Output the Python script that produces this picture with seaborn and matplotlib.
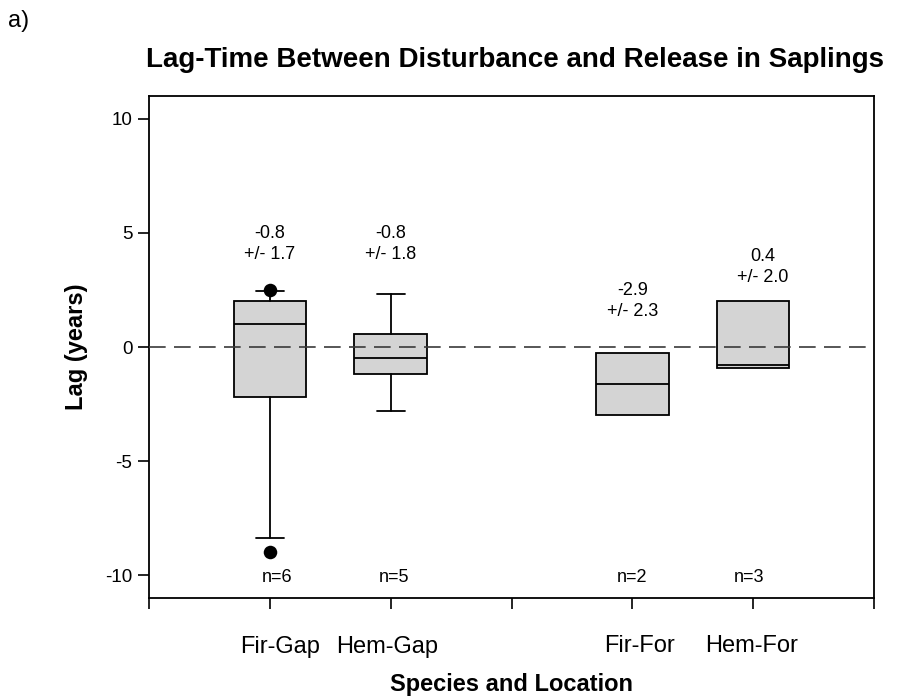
import matplotlib
matplotlib.use("Agg")
import matplotlib.pyplot as plt
import matplotlib.transforms as mtransforms
import seaborn as sns
import pandas as pd

# Groups and their positions along the x axis (slot 3 is left empty)
groups = ["Fir-Gap", "Hem-Gap", "Fir-For", "Hem-For"]
positions = [1, 2, 4, 5]
tick_slots = [0, 1, 2, 3, 4, 5, 6]
tick_labels = ["", "Fir-Gap", "Hem-Gap", "", "Fir-For", "Hem-For", ""]

# Box summaries (years)
q1 = [-2.2, -1.18, -2.98, -0.92]
medians = [1.0, -0.48, -1.62, -0.8]
q3 = [2.0, 0.57, -0.25, 2.03]
whisker_low = [-8.35, -2.8, -2.98, -0.92]
whisker_high = [2.45, 2.33, -0.25, 2.03]
has_whiskers = [True, True, False, False]

# Points outside the whiskers
outlier_group = ["Fir-Gap", "Fir-Gap"]
outlier_lag = [-9.0, 2.5]

# Mean and spread printed above each box, plus sample sizes
mean_lag = [-0.8, -0.8, -2.9, 0.4]
spread_lag = [1.7, 1.8, 2.3, 2.0]
sample_n = [6, 5, 2, 3]

# Placement of the printed annotations
label_y = [4.5, 4.5, 2.0, 3.5]
label_dx = [0.0, 0.0, 0.0, 0.08]
n_dx = [0.06, 0.025, 0.0, -0.03]
ticklabel_shift_px = [0, 10, -4, 0, 7, -2, 0]

sns.set_theme(style="ticks")
plt.rcParams["font.family"] = ["Liberation Sans", "DejaVu Sans"]
plt.rcParams["text.color"] = "black"
plt.rcParams["axes.labelcolor"] = "black"
plt.rcParams["xtick.color"] = "black"
plt.rcParams["ytick.color"] = "black"

fig = plt.figure(figsize=(9.08, 6.98), dpi=100)
ax = fig.add_axes([149 / 908, 1 - 598 / 698, 725 / 908, 502 / 698])

stats = []
for g, lo, a, m, b, hi in zip(groups, whisker_low, q1, medians, q3, whisker_high):
    stats.append(dict(label=g, whislo=lo, q1=a, med=m, q3=b, whishi=hi, fliers=[]))

box_style = dict(facecolor="#d4d4d4", edgecolor="black", linewidth=1.3)
line_style = dict(color="black", linewidth=1.3)
for show in (True, False):
    idx = [i for i, h in enumerate(has_whiskers) if h == show]
    ax.bxp([stats[i] for i in idx],
           positions=[positions[i] for i in idx],
           widths=0.6, patch_artist=True, showfliers=False,
           showcaps=show, capwidths=0.23, manage_ticks=False,
           boxprops=box_style, medianprops=line_style,
           whiskerprops=line_style, capprops=line_style)

pos_of = dict(zip(groups, positions))
outliers = pd.DataFrame({"x": [pos_of[g] for g in outlier_group], "lag": outlier_lag})
sns.scatterplot(data=outliers, x="x", y="lag", ax=ax, color="black",
                s=95, edgecolor="black", linewidth=0, zorder=4)

ax.axhline(0, color="#3a3a3a", linestyle=(0, (10, 5)), linewidth=1.2, zorder=3)

for x, dx, ndx, y, m, s, n in zip(positions, label_dx, n_dx, label_y,
                                  mean_lag, spread_lag, sample_n):
    ax.text(x + dx, y + 0.46, f"{m:.1f}", ha="center", va="center", fontsize=13)
    ax.text(x + dx, y - 0.46, f"+/- {s:.1f}", ha="center", va="center", fontsize=13)
    ax.text(x + ndx, -10.1, f"n={n}", ha="center", va="center", fontsize=13)

ax.set_xlim(0, 6)
ax.set_ylim(-11, 11)
ax.set_xticks(tick_slots)
ax.set_xticklabels(tick_labels, fontsize=17)
ax.set_yticks([-10, -5, 0, 5, 10])
ax.set_yticklabels(["-10", "-5", "0", "5", "10"], fontsize=13.5)
ax.tick_params(axis="x", direction="out", length=8, width=1.2, pad=19)
ax.tick_params(axis="y", direction="out", length=8, width=1.2, pad=4)
for lbl, shift in zip(ax.get_xticklabels(), ticklabel_shift_px):
    lbl.set_transform(lbl.get_transform() +
                      mtransforms.ScaledTranslation(shift / 100, 0, fig.dpi_scale_trans))
for sp in ax.spines.values():
    sp.set_visible(True)
    sp.set_color("black")
    sp.set_linewidth(1.3)

ax.set_xlabel("Species and Location", fontsize=17, fontweight="bold")
ax.xaxis.label.set_va("center")
ax.xaxis.set_label_coords(0.5, -(684 - 598) / 502)
ax.set_ylabel("Lag (years)", fontsize=17, fontweight="bold")
ax.yaxis.label.set_va("center")
ax.yaxis.set_label_coords(-(149 - 76) / 725, 0.5)

fig.text(515 / 908, 1 - 60 / 698, "Lag-Time Between Disturbance and Release in Saplings",
         ha="center", va="center", fontsize=20, fontweight="bold")
fig.text(8 / 908, 1 - 21 / 698, "a)", ha="left", va="center", fontsize=17)

fig.savefig("out.png", dpi=100, facecolor="white")
